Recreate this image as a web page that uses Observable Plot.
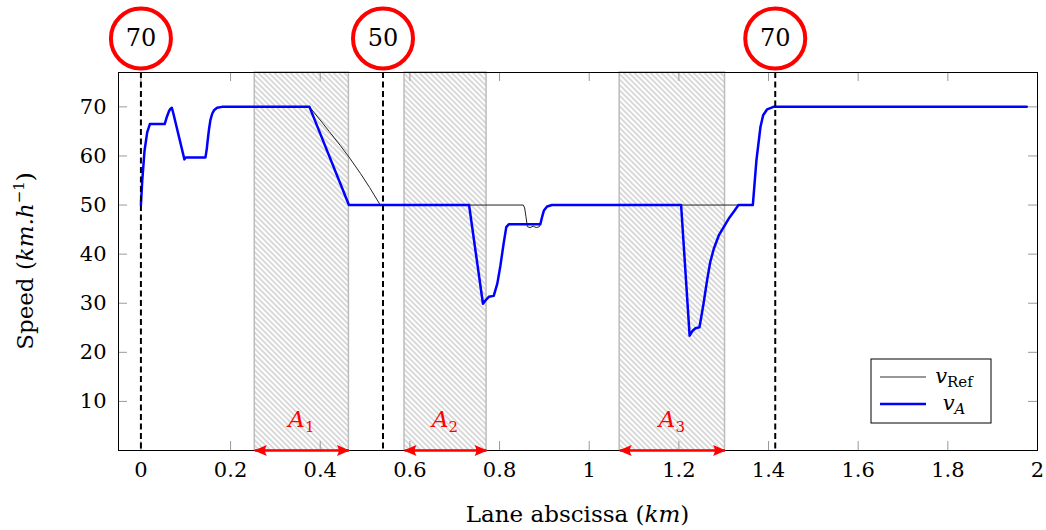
<!DOCTYPE html>
<html><head><meta charset="utf-8">
<script src="https://cdn.jsdelivr.net/npm/d3@7"></script>
<script src="https://cdn.jsdelivr.net/npm/@observablehq/plot@0.6"></script>
<style>body{margin:0;background:#fff}</style>
</head><body><div id="chart"></div>
<script>
// ---- data ----
const xTicks = [0, 0.2, 0.4, 0.6, 0.8, 1, 1.2, 1.4, 1.6, 1.8, 2];
const yTicks = [10, 20, 30, 40, 50, 60, 70];

// v_A (blue)
const vaX = [0, 0.003, 0.008, 0.014, 0.02, 0.053, 0.058, 0.063, 0.066, 0.069, 0.072, 0.097, 0.100, 0.144, 0.147, 0.149, 0.152, 0.155, 0.159, 0.163, 0.170, 0.181, 0.376, 0.464, 0.732, 0.763, 0.769, 0.776, 0.787, 0.795, 0.802, 0.809, 0.815, 0.821, 0.891, 0.895, 0.899, 0.906, 0.917, 1.205, 1.224, 1.230, 1.237, 1.246, 1.255, 1.263, 1.270, 1.278, 1.289, 1.300, 1.311, 1.322, 1.333, 1.365, 1.373, 1.382, 1.388, 1.397, 1.411, 1.976];
const vaY = [50, 55, 61, 64.8, 66.5, 66.5, 68, 69.2, 69.6, 69.8, 68.8, 59.3, 59.7, 59.7, 61.5, 63.2, 65.5, 67.3, 68.6, 69.3, 69.8, 70, 70, 50, 50, 29.9, 30.6, 31.3, 31.5, 34, 37.7, 42.1, 45.5, 46.1, 46.1, 47.6, 48.9, 49.7, 50, 50, 23.4, 24.3, 24.9, 25.1, 29.9, 34.7, 38.4, 41.1, 43.8, 45.5, 47.2, 48.6, 50, 50, 59.1, 65.9, 68.3, 69.5, 70, 70];

// v_Ref (black)
const refX = [0, 0.003, 0.008, 0.014, 0.02, 0.053, 0.058, 0.063, 0.066, 0.069, 0.072, 0.097, 0.100, 0.144, 0.147, 0.149, 0.152, 0.155, 0.159, 0.163, 0.170, 0.181, 0.376, 0.400, 0.420, 0.445, 0.464, 0.490, 0.510, 0.534, 0.853, 0.856, 0.859, 0.862, 0.868, 0.875, 0.882, 0.889, 0.891, 0.895, 0.899, 0.906, 0.917, 1.365, 1.373, 1.382, 1.388, 1.397, 1.411, 1.976];
const refY = [50, 55, 61, 64.8, 66.5, 66.5, 68, 69.2, 69.6, 69.8, 68.8, 59.3, 59.7, 59.7, 61.5, 63.2, 65.5, 67.3, 68.6, 69.3, 69.8, 70, 70, 67.3, 65.0, 62.1, 59.8, 56.4, 53.6, 50, 50, 49.4, 47.6, 45.6, 45.4, 45.7, 45.4, 45.6, 46.1, 47.6, 48.9, 49.7, 50, 50, 59.1, 65.9, 68.3, 69.5, 70, 70];

// hatched zones
const zoneStart = [0.254, 0.588, 1.068];
const zoneEnd = [0.464, 0.771, 1.303];
const zoneSub = ["1", "2", "3"];

// speed-limit signs
const signX = [0, 0.54, 1.415];
const signLabel = ["70", "50", "70"];

// ---- layout ----
const W = 1046, H = 530, mL = 118, mR = 9, mT = 72, mB = 80;
const pw = W - mL - mR, ph = H - mT - mB;
const TL = 9;
const FONT = "DejaVu Serif";
const zoneIdx = zoneStart.map((_, i) => i);

const defsMark = () => {
  const ns = "http://www.w3.org/2000/svg";
  const defs = document.createElementNS(ns, "defs");
  defs.innerHTML = `
    <pattern id="hatch" patternUnits="userSpaceOnUse" width="10" height="3.8" patternTransform="rotate(45)">
      <line x1="0" y1="1.9" x2="10" y2="1.9" stroke="#ababab" stroke-width="0.9"/>
    </pattern>
    <marker id="stealth" viewBox="-14 -7 16 14" refX="-1" refY="0" markerWidth="16" markerHeight="14" markerUnits="userSpaceOnUse" orient="auto-start-reverse">
      <path d="M0,0 L-13,-5.6 Q-9.5,0 -13,5.6 Z" fill="red"/>
    </marker>`;
  return defs;
};

const plot = Plot.plot({
  width: W, height: H,
  marginLeft: mL, marginRight: mR, marginTop: mT, marginBottom: mB,
  style: {fontFamily: FONT, fontSize: "21px", color: "black", background: "white", overflow: "visible"},
  x: {domain: [-0.05, 2]},
  y: {domain: [0, 77]},
  marks: [
    defsMark,
    Plot.rect(zoneIdx, {x1: i => zoneStart[i], x2: i => zoneEnd[i], fill: "url(#hatch)", stroke: "#bcbcbc", strokeWidth: 1.5}),
    // inner ticks
    Plot.ruleY(yTicks, {y: d => d, insetRight: pw - TL, stroke: "#9a9a9a", strokeWidth: 1}),
    Plot.ruleY(yTicks, {y: d => d, insetLeft: pw - TL, stroke: "#9a9a9a", strokeWidth: 1}),
    Plot.ruleX(xTicks, {x: d => d, insetTop: ph - TL, stroke: "#9a9a9a", strokeWidth: 1}),
    Plot.ruleX(xTicks, {x: d => d, insetBottom: ph - TL, stroke: "#9a9a9a", strokeWidth: 1}),
    Plot.line(refX.map((x, i) => [x, refY[i]]), {stroke: "#222", strokeWidth: 1}),
    Plot.line(vaX.map((x, i) => [x, vaY[i]]), {stroke: "#0000ff", strokeWidth: 2.5, strokeLinejoin: "round"}),
    Plot.ruleX(signX, {x: d => d, stroke: "black", strokeWidth: 2, strokeDasharray: "6,3.5"}),
    Plot.frame({stroke: "black", strokeWidth: 1}),
    Plot.link(zoneIdx, {x1: i => zoneStart[i], x2: i => zoneEnd[i], y1: 0, y2: 0, stroke: "red", strokeWidth: 2.5}),
    Plot.axisX({ticks: xTicks, tickSize: 0, tickPadding: 12, tickFormat: d => String(d), label: null, fontSize: 21, fill: "black"}),
    Plot.axisY({ticks: yTicks, tickSize: 0, tickPadding: 12, tickFormat: d => String(d), label: null, fontSize: 21, fill: "black"}),
    Plot.dot(signX, {x: d => d, frameAnchor: "top", dy: -34, r: 30, stroke: "red", strokeWidth: 4, fill: "white"}),
    Plot.text(signX, {x: d => d, frameAnchor: "top", lineAnchor: "middle", dy: -34, text: (d, i) => signLabel[i], fontSize: 24, fill: "black"})
  ]
});

document.getElementById("chart").appendChild(plot);
const svg = d3.select(plot);
svg.selectAll('g[aria-label="link"] path')
  .attr("marker-start", "url(#stealth)")
  .attr("marker-end", "url(#stealth)");

const sx = plot.scale("x"), sy = plot.scale("y");

// zone labels A_i
zoneIdx.forEach(i => {
  const cx = sx.apply((zoneStart[i] + zoneEnd[i]) / 2);
  const t = svg.append("text").attr("x", cx).attr("y", H - mB - 23)
    .attr("text-anchor", "middle").attr("fill", "red").attr("font-family", FONT).attr("font-size", 23);
  t.append("tspan").attr("font-style", "italic").text("A");
  t.append("tspan").attr("font-size", 15).attr("dy", 5).text(zoneSub[i]);
});

// axis labels
const xl = svg.append("text").attr("x", mL + pw / 2).attr("y", 522).attr("text-anchor", "middle")
  .attr("font-family", FONT).attr("font-size", 23).attr("fill", "black");
xl.append("tspan").text("Lane abscissa (");
xl.append("tspan").attr("font-style", "italic").text("km");
xl.append("tspan").text(")");

const yl = svg.append("text").attr("transform", `translate(33,${mT + ph / 2}) rotate(-90)`).attr("text-anchor", "middle")
  .attr("font-family", FONT).attr("font-size", 23).attr("fill", "black");
yl.append("tspan").text("Speed (");
yl.append("tspan").attr("font-style", "italic").text("km.h");
yl.append("tspan").attr("font-size", 15).attr("dy", -9).text("−1");
yl.append("tspan").attr("dy", 9).text(")");

// legend
const lgR = W - mR - 46, lgB = H - mB - 27, lgW = 120, lgH = 64;
const lg = svg.append("g");
lg.append("rect").attr("x", lgR - lgW).attr("y", lgB - lgH).attr("width", lgW).attr("height", lgH)
  .attr("fill", "white").attr("stroke", "black").attr("stroke-width", 1);
const l1y = lgB - lgH + 18, l2y = lgB - lgH + 45;
lg.append("line").attr("x1", lgR - lgW + 9).attr("x2", lgR - lgW + 55).attr("y1", l1y).attr("y2", l1y)
  .attr("stroke", "#333").attr("stroke-width", 1.2);
lg.append("line").attr("x1", lgR - lgW + 9).attr("x2", lgR - lgW + 55).attr("y1", l2y).attr("y2", l2y)
  .attr("stroke", "#0000ff").attr("stroke-width", 2.5);
const t1 = lg.append("text").attr("x", lgR - 37).attr("y", l1y + 6).attr("text-anchor", "middle")
  .attr("font-family", FONT).attr("font-size", 21).attr("fill", "black");
t1.append("tspan").attr("font-style", "italic").text("v");
t1.append("tspan").attr("font-size", 15).attr("dy", 4).text("Ref");
const t2 = lg.append("text").attr("x", lgR - 37).attr("y", l2y + 6).attr("text-anchor", "middle")
  .attr("font-family", FONT).attr("font-size", 21).attr("fill", "black");
t2.append("tspan").attr("font-style", "italic").text("v");
t2.append("tspan").attr("font-size", 15).attr("font-style", "italic").attr("dy", 4).text("A");
</script>
</body></html>
